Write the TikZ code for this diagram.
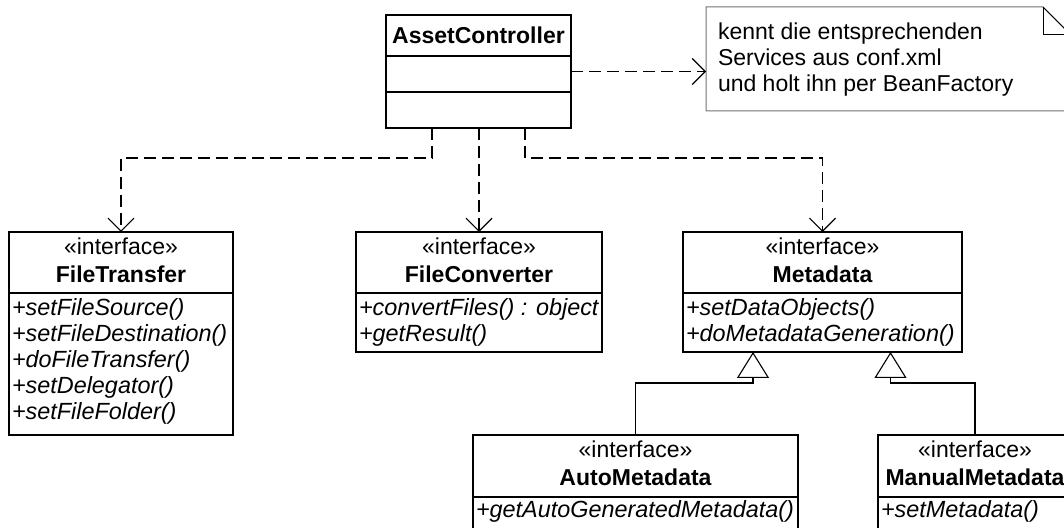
\documentclass[tikz,border=0pt]{standalone}
\usepackage{fontspec}
\setmainfont{Liberation Sans}
\usetikzlibrary{arrows.meta,calc}
\tikzset{
  classbox/.style={draw=black, line width=1pt, fill=white, inner sep=0pt, outer sep=0pt, anchor=north west},
  divider/.style={draw=black, line width=1pt},
  txt/.style={inner sep=0pt, outer sep=0pt, anchor=base},
  member/.style={inner sep=0pt, outer sep=0pt, anchor=base west, font=\fontsize{11.7}{14}\selectfont\itshape},
  notebox/.style={draw=black!55, line width=0.5pt, fill=white},
  notefold/.style={draw=black, line width=0.5pt},
  dep/.style={draw=black, line width=0.7pt, dash pattern=on 6pt off 3pt,
    -{Straight Barb[length=6.5pt,width=13pt,line width=0.6pt]}},
  gen/.style={draw=black, line width=0.55pt,
    -{Triangle[open,fill=white,length=13pt,width=16pt]}}
}
\begin{document}
\begin{tikzpicture}[x=0.5pt,y=-0.5pt,font=\fontsize{11.5}{13.8}\selectfont]
\fill[white] (0,0) rectangle (1064,528);
\useasboundingbox (0,0) rectangle (1064,528);
\clip (0,0) rectangle (1064,528);

% note
\node[inner sep=0pt, outer sep=0pt, anchor=north west, minimum width=182.5pt, minimum height=52pt] (note) at (706,7) {};
\draw[notebox] (note.north west) -- ($(note.north east)+(-28,0)$) -- ($(note.north east)+(0,28)$)
  -- (note.south east) -- (note.south west) -- cycle;
\draw[notefold] ($(note.north east)+(-28,0)$) |- ($(note.north east)+(0,28)$);
\draw[notefold] ($(note.north east)+(-28,0)$) -- ($(note.north east)+(0,28)$);
\node[txt, anchor=base west] (n1) at (718,40) {kennt die entsprechenden};
\node[txt, anchor=base west] (n2) at (718,66) {Services aus conf.xml};
\node[txt, anchor=base west] (n3) at (718,92) {und holt ihn per BeanFactory};

% AssetController
\node[classbox, minimum width=92.5pt, minimum height=56.5pt] (ac) at (386,15) {};
\draw[divider] ($(ac.north west)+(0,41)$) -- ($(ac.north east)+(0,41)$);
\draw[divider] ($(ac.north west)+(0,77)$) -- ($(ac.north east)+(0,77)$);
\node[txt] (acname) at (478.5,43.5) {\bfseries AssetController};

% FileTransfer
\node[classbox, minimum width=112pt, minimum height=101.5pt] (ft) at (9,232) {};
\draw[divider] ($(ft.north west)+(0,61)$) -- ($(ft.north east)+(0,61)$);
\node[txt] (ftst) at (121,255) {«interface»};
\node[txt] (ftname) at (121,283) {\bfseries FileTransfer};
\node[member] (ftm1) at (12,316) {+setFileSource()};
\node[member] (ftm2) at (12,342) {+setFileDestination()};
\node[member] (ftm3) at (12,368) {+doFileTransfer()};
\node[member] (ftm4) at (12,394) {+setDelegator()};
\node[member] (ftm5) at (12,420) {+setFileFolder()};

% FileConverter
\node[classbox, minimum width=123pt, minimum height=60pt] (fc) at (356,232) {};
\draw[divider] ($(fc.north west)+(0,61)$) -- ($(fc.north east)+(0,61)$);
\node[txt] (fcst) at (479,255) {«interface»};
\node[txt] (fcname) at (479,283) {\bfseries FileConverter};
\node[member] (fcm1) at (359,316) {+convertFiles() : object};
\node[member] (fcm2) at (359,342) {+getResult()};

% Metadata
\node[classbox, minimum width=139.5pt, minimum height=60pt] (md) at (683,232) {};
\draw[divider] ($(md.north west)+(0,61)$) -- ($(md.north east)+(0,61)$);
\node[txt] (mdst) at (822.5,255) {«interface»};
\node[txt] (mdname) at (822.5,283) {\bfseries Metadata};
\node[member] (mdm1) at (686,316) {+setDataObjects()};
\node[member] (mdm2) at (686,342) {+doMetadataGeneration()};

% AutoMetadata
\node[classbox, minimum width=162.5pt, minimum height=55pt] (auto) at (473,435) {};
\draw[divider] ($(auto.north west)+(0,62)$) -- ($(auto.north east)+(0,62)$);
\node[txt] (aust) at (635.5,458) {«interface»};
\node[txt] (auname) at (635.5,486) {\bfseries AutoMetadata};
\node[member] (aum1) at (476,517) {+getAutoGeneratedMetadata()};

% ManualMetadata
\node[classbox, minimum width=97pt, minimum height=55pt] (manual) at (878,435) {};
\draw[divider] ($(manual.north west)+(0,62)$) -- ($(manual.north east)+(0,62)$);
\node[txt] (mast) at (975,458) {«interface»};
\node[txt] (maname) at (975,486) {\bfseries ManualMetadata};
\node[member] (mam1) at (881,517) {+setMetadata()};

% dependencies
\draw[dep] (ac.east) -- (ac.east -| note.west);
\draw[dep] ($(ac.south)+(-46.5,0)$) -- ++(0,30) -| (ft.north);
\draw[dep] (ac.south -| fc.north) -- (fc.north);
\draw[dep] ($(ac.south)+(46.5,0)$) -- ++(0,30) -| (md.north);

% generalizations
\coordinate (mdL) at ($(md.south west)+(70,0)$);
\coordinate (mdR) at ($(md.south east)+(-71.5,0)$);
\draw[gen] (auto.north) |- ($(mdL)+(0,31)$) -- (mdL);
\draw[gen] (manual.north) |- ($(mdR)+(0,31)$) -- (mdR);
\end{tikzpicture}
\end{document}
